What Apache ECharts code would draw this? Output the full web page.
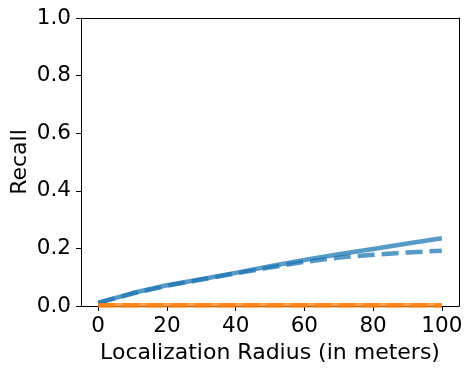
<!DOCTYPE html>
<html>
<head>
<meta charset="utf-8">
<script src="https://cdn.jsdelivr.net/npm/echarts@6/dist/echarts.min.js"></script>
<style>
  html, body { margin: 0; padding: 0; background: #fff; }
  #chart { width: 472px; height: 372px; }
</style>
</head>
<body>
<div id="chart"></div>
<script>
const radius = [0, 10, 20, 30, 40, 50, 60, 70, 80, 90, 100]
const recallA = [0.011, 0.045, 0.072, 0.093, 0.115, 0.138, 0.160, 0.180, 0.198, 0.217, 0.235]
const recallB = [0.011, 0.043, 0.070, 0.092, 0.113, 0.134, 0.153, 0.168, 0.178, 0.186, 0.192]
const recallC = [0.003, 0.003, 0.003, 0.003, 0.003, 0.003, 0.003, 0.003, 0.003, 0.003, 0.003]
const recallD = [0.003, 0.003, 0.003, 0.003, 0.003, 0.003, 0.003, 0.003, 0.003, 0.003, 0.003]
const xTicks = [0, 20, 40, 60, 80, 100]

const chart = echarts.init(document.getElementById('chart'))
const font = 'DejaVu Sans'
const pairs = (ys) => radius.map((x, i) => [x, ys[i]])

const mkLine = (data, color, type, opacity) => ({
  type: 'line',
  data: pairs(data),
  showSymbol: false,
  symbol: 'none',
  lineStyle: { color: color, width: 4.5, type: type, opacity: opacity },
  animation: false
})

const frameLine = { show: true, onZero: false, lineStyle: { color: '#000', width: 1 } }

chart.setOption({
  animation: false,
  grid: { left: 81, right: 13, top: 18, bottom: 66, containLabel: false, outerBoundsMode: 'none' },
  xAxis: [{
    type: 'value',
    min: -5,
    max: 105,
    name: 'Localization Radius (in meters)',
    nameLocation: 'middle',
    nameGap: 36,
    nameMoveOverlap: false,
    nameTextStyle: { fontFamily: font, fontSize: 22, color: '#000' },
    axisLine: frameLine,
    axisTick: { show: true, length: 5, customValues: xTicks, lineStyle: { color: '#000' } },
    axisLabel: { customValues: xTicks, fontFamily: font, fontSize: 21.5, color: '#000', margin: 9 },
    splitLine: { show: false }
  }, {
    type: 'value', position: 'top', min: -5, max: 105,
    axisLine: frameLine,
    axisTick: { show: false }, axisLabel: { show: false }, splitLine: { show: false }
  }],
  yAxis: [{
    type: 'value',
    min: 0,
    max: 1,
    interval: 0.2,
    name: 'Recall',
    nameLocation: 'middle',
    nameGap: 50,
    nameMoveOverlap: false,
    nameTextStyle: { fontFamily: font, fontSize: 22, color: '#000' },
    axisLine: frameLine,
    axisTick: { show: true, length: 5, lineStyle: { color: '#000' } },
    axisLabel: { fontFamily: font, fontSize: 21.5, color: '#000', margin: 10,
      formatter: (v) => v.toFixed(1) },
    splitLine: { show: false }
  }, {
    type: 'value', position: 'right', min: 0, max: 1,
    axisLine: frameLine,
    axisTick: { show: false }, axisLabel: { show: false }, splitLine: { show: false }
  }],
  series: [
    mkLine(recallA, '#1f77b4', 'solid', 0.75),
    mkLine(recallB, '#1f77b4', [17, 7], 0.75),
    mkLine(recallC, '#ff7f0e', 'solid', 0.75),
    mkLine(recallD, '#ff7f0e', [17, 7], 0.75)
  ]
})
</script>
</body>
</html>
